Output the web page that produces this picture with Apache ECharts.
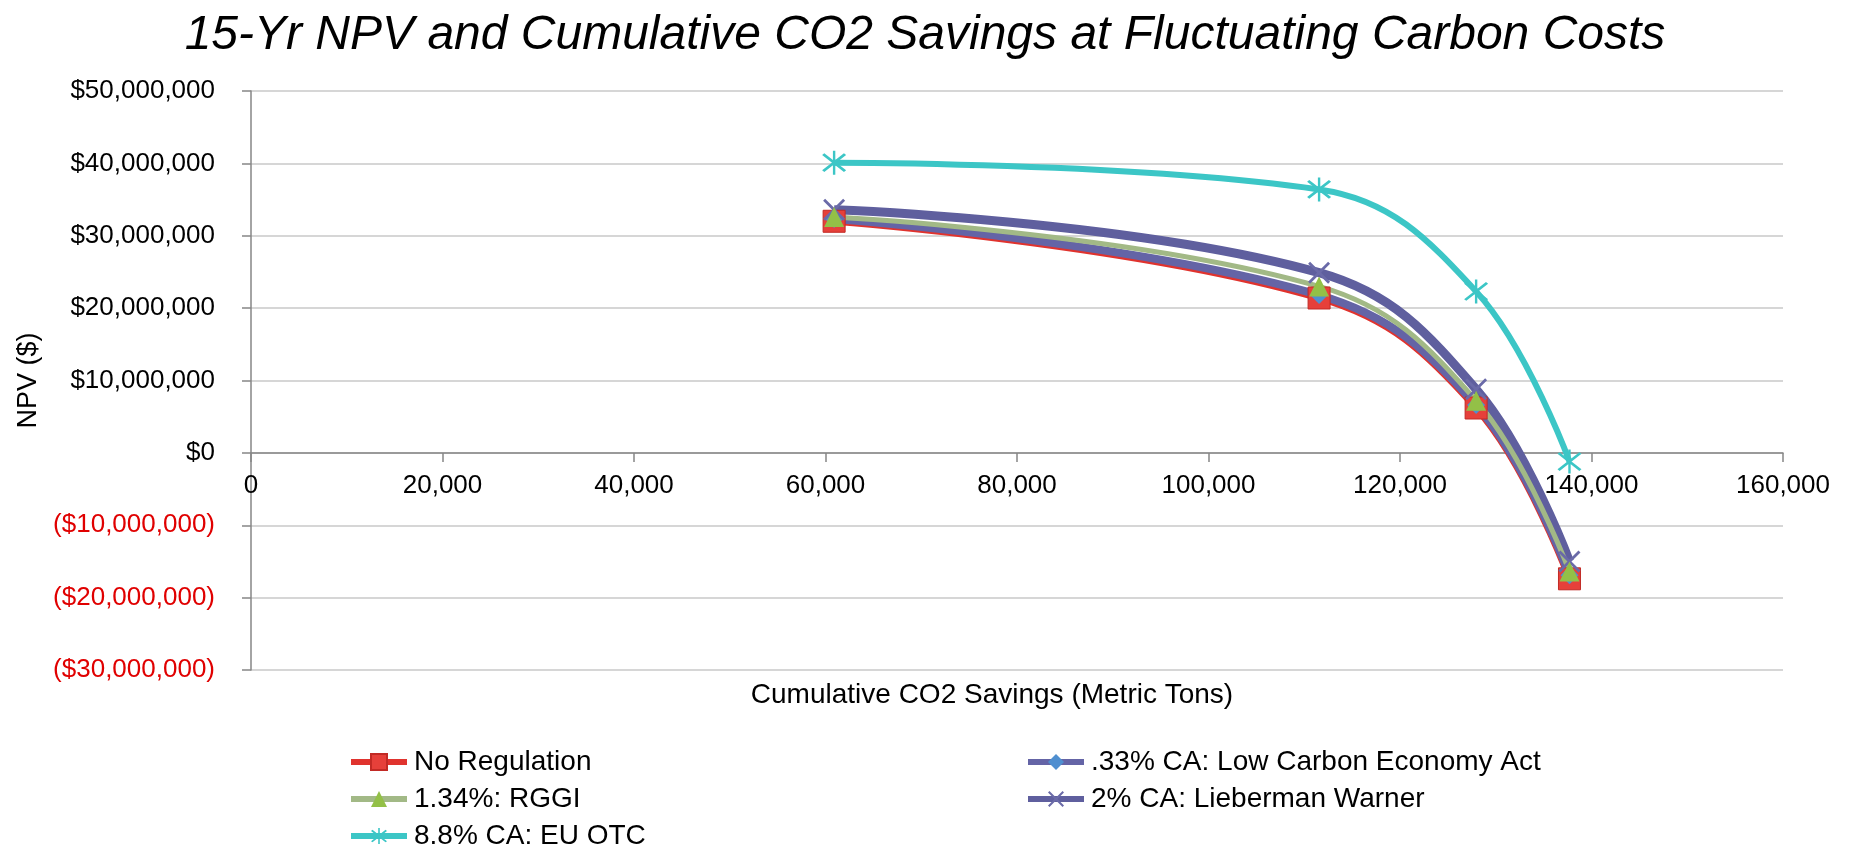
<!DOCTYPE html>
<html>
<head>
<meta charset="utf-8">
<script src="https://cdn.jsdelivr.net/npm/echarts@6/dist/echarts.min.js"></script>
<style>
  html, body { margin: 0; padding: 0; background: #ffffff; }
  #chart { width: 1854px; height: 854px; }
</style>
</head>
<body>
<div id="chart"></div>
<script>
// Cumulative CO2 savings (metric tons) shared by every carbon-cost scenario
const co2Savings = [60900, 111550, 127950, 137700];

// 15-year NPV ($) for each scenario at the savings points above
const npvNoRegulation = [32000000, 21400000, 6200000, -17400000];
const npvLowCarbon    = [32300000, 21800000, 6600000, -16900000];
const npvRGGI         = [32600000, 23000000, 7200000, -16400000];
const npvLieberman    = [33600000, 24900000, 8800000, -15000000];
const npvEuOtc        = [40100000, 36400000, 22300000, -1200000];

const seriesNames = [
  'No Regulation',
  '.33% CA: Low Carbon Economy Act',
  '1.34%: RGGI',
  '2% CA: Lieberman Warner',
  '8.8% CA: EU OTC'
];

const xTicks = { min: 0, max: 160000, interval: 20000 };
const yTicks = { min: -30000000, max: 50000000, interval: 10000000 };

const FONT = "'Liberation Sans', Arial, sans-serif";

// plot area box
const grid = { left: 251, right: 71, top: 91, bottom: 184 };
const plotHeight = 854 - grid.top - grid.bottom;
// lift the horizontal axis from the plot bottom up to the $0 line
const zeroLift = plotHeight * (0 - yTicks.min) / (yTicks.max - yTicks.min);

// thin-stroke marker shapes built as filled outlines
const crossPath = 'path://M0,9L9,0L100,91L91,100Z M91,0L100,9L9,100L0,91Z';
const starPath = 'path://M0,9L9,0L100,91L91,100Z M91,0L100,9L9,100L0,91Z M45,-14L55,-14L55,114L45,114Z';

function pairs(ys) {
  return co2Savings.map((x, i) => [x, ys[i]]);
}

function money(v) {
  const s = '$' + Math.abs(v).toLocaleString('en-US');
  return v < 0 ? '{neg|(' + s + ')}' : s;
}

// one legend block per entry, laid out in two columns
const legendSlots = [
  { name: seriesNames[0], left: 343, top: 743 },
  { name: seriesNames[2], left: 343, top: 780 },
  { name: seriesNames[4], left: 343, top: 817 },
  { name: seriesNames[1], left: 1020, top: 743 },
  { name: seriesNames[3], left: 1020, top: 780 }
];

const chart = echarts.init(document.getElementById('chart'), null, { renderer: 'canvas' });

const option = {
  backgroundColor: '#ffffff',
  animation: false,
  textStyle: { fontFamily: FONT },
  title: {
    text: '15-Yr NPV and Cumulative CO2 Savings at Fluctuating Carbon Costs',
    left: 920,
    textAlign: 'center',
    top: 7,
    textStyle: { fontFamily: FONT, fontSize: 48, fontStyle: 'italic', fontWeight: 'normal', color: '#000000' }
  },
  grid: Object.assign({ containLabel: false, outerBoundsMode: 'none' }, grid),
  xAxis: {
    type: 'value',
    min: xTicks.min, max: xTicks.max, interval: xTicks.interval,
    position: 'bottom',
    offset: -zeroLift,
    name: 'Cumulative CO2 Savings (Metric Tons)',
    nameLocation: 'middle',
    nameGap: 228,
    nameTextStyle: { fontFamily: FONT, fontSize: 28, color: '#000000', padding: [0, 50, 0, 0] },
    axisLine: { onZero: false, lineStyle: { color: '#868686', width: 1.5 } },
    axisTick: { show: true, length: 9, lineStyle: { color: '#868686', width: 1.5 } },
    axisLabel: {
      margin: 20, fontSize: 26, color: '#000000', fontFamily: FONT,
      formatter: v => v.toLocaleString('en-US')
    },
    splitLine: { show: false }
  },
  yAxis: {
    type: 'value',
    min: yTicks.min, max: yTicks.max, interval: yTicks.interval,
    name: 'NPV ($)',
    nameLocation: 'middle',
    nameRotate: 90,
    nameGap: 207,
    nameTextStyle: { fontFamily: FONT, fontSize: 27, color: '#000000' },
    axisLine: { show: true, lineStyle: { color: '#868686', width: 1.5 } },
    axisTick: { show: true, length: 9, lineStyle: { color: '#868686', width: 1.5 } },
    axisLabel: {
      margin: 36, fontSize: 26, color: '#000000', fontFamily: FONT,
      formatter: money,
      rich: { neg: { color: '#E00000', fontSize: 26, fontFamily: FONT } }
    },
    splitLine: { show: true, lineStyle: { color: '#C8C8C8', width: 1.5 } }
  },
  legend: legendSlots.map(s => ({
    data: [s.name],
    left: s.left, top: s.top,
    itemWidth: 56, itemHeight: 20, itemGap: 0,
    lineStyle: { width: 6 },
    textStyle: { fontSize: 28, color: '#000000', fontFamily: FONT, padding: [0, 0, 0, 2] }
  })),
  series: [
    {
      name: seriesNames[0], type: 'line', smooth: 0.4,
      data: pairs(npvNoRegulation),
      lineStyle: { color: '#E0332E', width: 7 },
      symbol: 'rect', symbolSize: 22,
      itemStyle: { color: '#E6403A', borderColor: '#C22A25', borderWidth: 1 }
    },
    {
      name: seriesNames[1], type: 'line', smooth: 0.4,
      data: pairs(npvLowCarbon),
      lineStyle: { color: '#6464A6', width: 8 },
      symbol: 'diamond', symbolSize: 18,
      itemStyle: { color: '#4F8FD0' }
    },
    {
      name: seriesNames[3], type: 'line', smooth: 0.4,
      data: pairs(npvLieberman),
      lineStyle: { color: '#5F5F9E', width: 9 },
      symbol: crossPath, symbolSize: 22,
      itemStyle: { color: '#6A6AA8' }
    },
    {
      name: seriesNames[2], type: 'line', smooth: 0.4,
      data: pairs(npvRGGI),
      lineStyle: { color: '#A2B986', width: 5 },
      symbol: 'triangle', symbolSize: 20,
      itemStyle: { color: '#93C047' }
    },
    {
      name: seriesNames[4], type: 'line', smooth: 0.4,
      data: pairs(npvEuOtc),
      lineStyle: { color: '#3CC6C6', width: 6 },
      symbol: starPath, symbolSize: 24,
      itemStyle: { color: '#3CC6C6' }
    }
  ]
};

chart.setOption(option);
</script>
</body>
</html>
